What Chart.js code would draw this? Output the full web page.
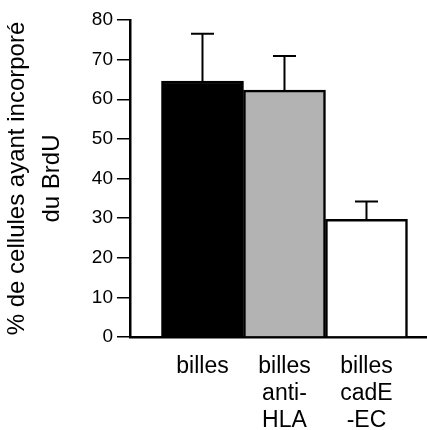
<!DOCTYPE html>
<html>
<head>
<meta charset="utf-8">
<script src="https://cdn.jsdelivr.net/npm/chart.js@4/dist/chart.umd.min.js"></script>
<style>
  html, body { margin: 0; padding: 0; background: #fff; }
</style>
</head>
<body>
<canvas id="brduChart" width="427" height="430"></canvas>
<script>
// data
var categories = [['billes'], ['billes', 'anti-', 'HLA'], ['billes', 'cadE', '-EC']];
var positions = [1, 2, 3];
var values = [64.6, 62.3, 29.7];
var errors = [11.9, 8.6, 4.5];
var yTicks = [0, 10, 20, 30, 40, 50, 60, 70, 80];

var fontFam = '"Liberation Sans", Arial, Helvetica, sans-serif';

// upper error bars only
const errorBars = {
  id: 'errorBars',
  afterDatasetsDraw(chart) {
    const ctx = chart.ctx;
    const xs = chart.scales.x, ys = chart.scales.y;
    ctx.save();
    ctx.strokeStyle = '#000';
    ctx.lineWidth = 2;
    values.forEach(function (v, i) {
      const px = xs.getPixelForValue(positions[i]);
      const base = ys.getPixelForValue(v);
      const top = ys.getPixelForValue(v + errors[i]);
      ctx.beginPath();
      ctx.moveTo(px, base);
      ctx.lineTo(px, top);
      ctx.moveTo(px - 11.5, top);
      ctx.lineTo(px + 11.5, top);
      ctx.stroke();
    });
    ctx.restore();
  }
};

var ctx = document.getElementById('brduChart');
var brduChart = new Chart(ctx, {
  type: 'bar',
  data: {
    datasets: [{
      data: positions.map(function (p, i) { return { x: p, y: values[i] }; }),
      backgroundColor: ['#000000', '#b3b3b3', '#ffffff'],
      borderColor: '#000000',
      borderWidth: 2.5,
      categoryPercentage: 1,
      barPercentage: 1,
    }],
  },
  options: {
    responsive: false,
    animation: false,
    layout: { padding: { top: 20, right: 0, bottom: 0, left: 0 } },
    plugins: {
      legend: { display: false },
      tooltip: { enabled: false },
    },
    scales: {
      x: {
        type: 'linear',
        offset: false,
        min: 0.116,
        max: 3.738,
        grid: { display: false, drawTicks: false, offset: false },
        border: { display: true, color: '#000', width: 2.5 },
        afterBuildTicks: function (scale) {
          scale.ticks = positions.map(function (p) { return { value: p }; });
        },
        afterFit: function (scale) { scale.height = 93; },
        ticks: {
          autoSkip: false,
          maxRotation: 0,
          padding: 16,
          color: '#000',
          font: { family: fontFam, size: 23, lineHeight: 1.17 },
          callback: function (value) { return categories[value - 1]; },
        },
      },
      y: {
        min: 0,
        max: 80,
        afterBuildTicks: function (scale) {
          scale.ticks = yTicks.map(function (t) { return { value: t }; });
        },
        afterFit: function (scale) { scale.width = 130; },
        grid: {
          display: true,
          drawOnChartArea: false,
          drawTicks: true,
          tickLength: 13,
          color: '#000',
          lineWidth: 1.5,
        },
        border: { display: true, color: '#000', width: 2.5 },
        ticks: {
          padding: 4,
          color: '#000',
          font: { family: fontFam, size: 19 },
        },
        title: {
          display: true,
          text: ['% de cellules ayant incorporé', 'du BrdU'],
          color: '#000',
          padding: { top: 0, bottom: 0 },
          font: { family: fontFam, size: 24, lineHeight: 1.45 },
        },
      },
    },
  },
  plugins: [errorBars],
});
</script>
</body>
</html>
